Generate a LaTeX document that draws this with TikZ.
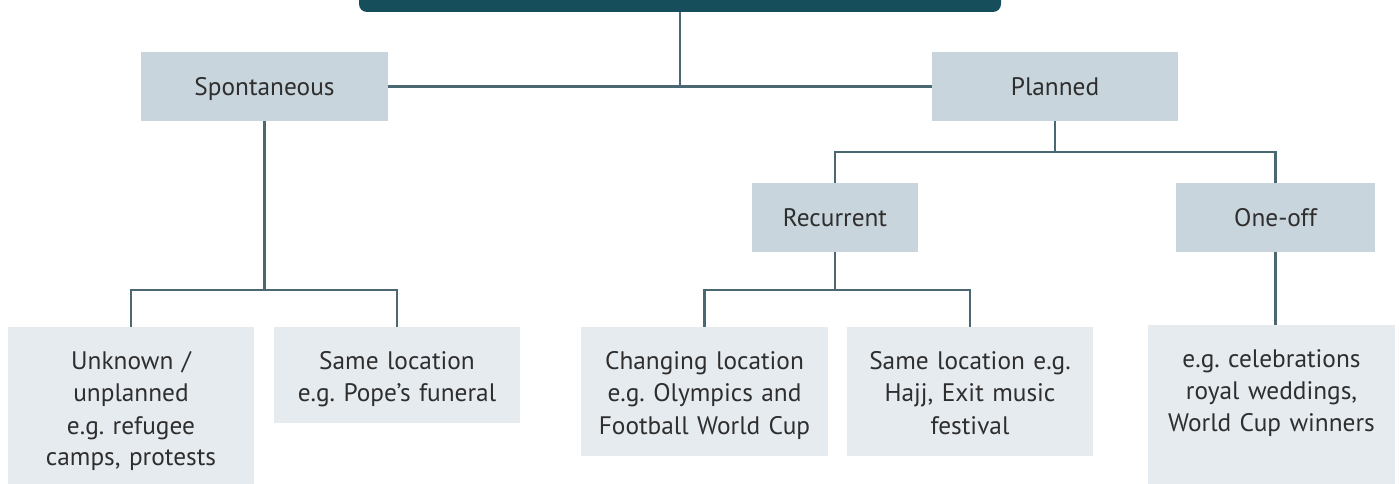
\documentclass[tikz,border=0pt]{standalone}
\usepackage{fontspec}
\setmainfont{PT Sans}
\usetikzlibrary{positioning,calc}
\definecolor{rootfill}{HTML}{174E5C}
\definecolor{midfill}{HTML}{C9D5DD}
\definecolor{leaffill}{HTML}{E6EBF0}
\definecolor{linkcol}{HTML}{4B6771}
\definecolor{textcol}{HTML}{2E2E2E}
\tikzstyle{midbox}=[fill=midfill, text=textcol, inner sep=0pt, minimum height=51.75pt, text height=13.5pt, text depth=0pt, font=\fontsize{19}{24}\selectfont\frenchspacing]
\tikzstyle{leafbox}=[fill=leaffill, text=textcol, inner sep=0pt, minimum width=185pt, text width=182pt, align=center, text height=32.25pt, font=\fontsize{19}{24}\selectfont\frenchspacing]
\tikzstyle{link}=[draw=linkcol, line width=2.2pt]

\begin{document}
\begin{tikzpicture}[x=0.75pt, y=-0.75pt]
\useasboundingbox (0,0) rectangle (1399,484);

\node (root) [fill=rootfill, rounded corners=6pt, minimum width=481.5pt, minimum height=48pt] at (680,-20) {};

\node (spont) [midbox, minimum width=185.25pt] at (264.5,86.5) {Spontaneous};
\node (planned) [midbox, minimum width=184.5pt] at (1055,86.5) {Planned};
\node (recur) [midbox, minimum width=124.5pt] at (835,217.5) {Recurrent};
\node (oneoff) [midbox, minimum width=149.25pt] at (1275.5,217.5) {One-off};

\node (unknown) [leafbox, text depth=85.5pt] at (131,405.5) {Unknown /\\unplanned\\e.g. refugee\\camps, protests};
\node (spsame) [leafbox, text depth=39.75pt] at (397,375) {Same location\\e.g. Pope’s funeral};
\node (changing) [leafbox, text depth=64.5pt] at (704.5,391.5) {Changing location\\e.g. Olympics and\\Football World Cup};
\node (plsame) [leafbox, text depth=64.5pt] at (970,391.5) {Same location e.g.\\Hajj, Exit music\\festival};
\node (celebr) [leafbox, text depth=87pt] at (1271.5,404.5) {e.g. celebrations\\royal weddings,\\World Cup winners};

\coordinate (spfork) at (spont |- 0,290);
\coordinate (plfork) at (planned |- 0,152);
\coordinate (recfork) at (recur |- 0,290);

\draw [link] (spont) -- (planned);
\draw [link] (root.south) -- (root.south |- spont);
\draw [link] (spont) -- (spfork);
\draw [link] (unknown.north) |- (spfork) -| (spsame.north);
\draw [link] (planned) -- (plfork);
\draw [link] (recur.north) |- (plfork) -| (oneoff.north);
\draw [link] (recur) -- (recfork);
\draw [link] (changing.north) |- (recfork) -| (plsame.north);
\draw [link] (oneoff.south) -- (oneoff.south |- celebr.north);

\end{tikzpicture}
\end{document}
